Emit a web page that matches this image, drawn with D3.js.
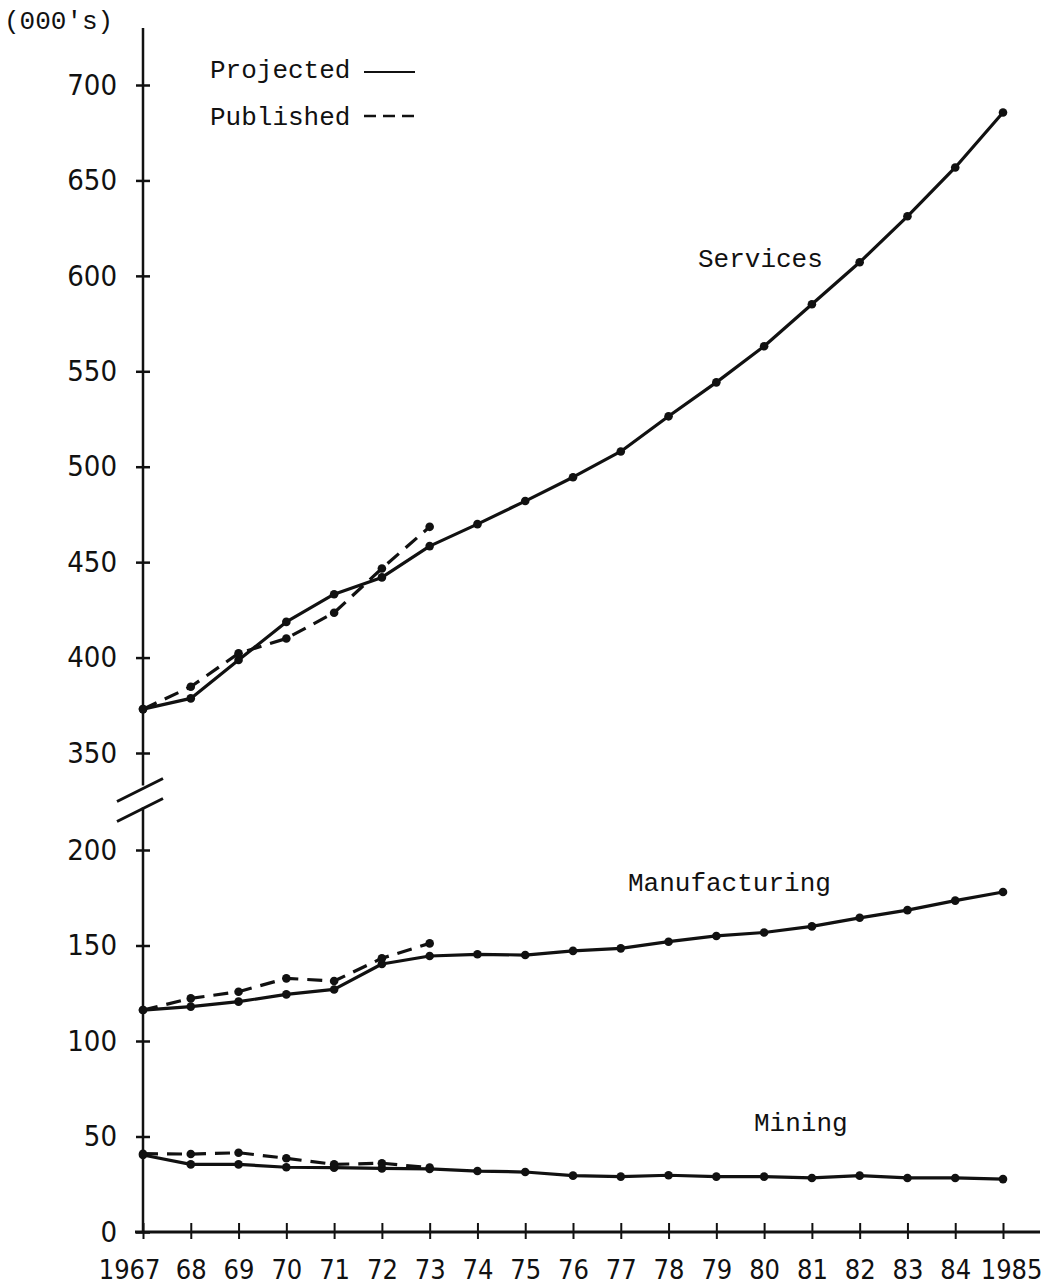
<!DOCTYPE html>
<html>
<head>
<meta charset="utf-8">
<script src="https://cdn.jsdelivr.net/npm/d3@7"></script>
<style>
  html, body { margin: 0; padding: 0; background: #fff; }
  svg { display: block; }
</style>
</head>
<body>
<svg id="svg" width="1046" height="1287"></svg>
<script>
const years = [1967, 1968, 1969, 1970, 1971, 1972, 1973, 1974, 1975, 1976,
  1977, 1978, 1979, 1980, 1981, 1982, 1983, 1984, 1985]
const yearLabels = ['1967', '68', '69', '70', '71', '72', '73', '74', '75', '76',
  '77', '78', '79', '80', '81', '82', '83', '84', '1985']
const yTicks = [0, 50, 100, 150, 200, 350, 400, 450, 500, 550, 600, 650, 700]

// projected series run 1967-85, published only 1967-73
const servicesProjected = [373, 378.6, 398.7, 418.7, 433.2, 442, 458.4, 469.9, 482, 494.5,
  508, 526.4, 544.2, 563.1, 585.1, 607.1, 631.2, 656.8, 685.6]
const servicesPublished = [373, 384.7, 402.2, 410, 423.5, 446.7, 468.5]
const manufacturingProjected = [116.2, 118, 120.6, 124.4, 127, 140.3, 144.5, 145.4, 145, 147.2,
  148.5, 152, 155, 156.8, 160, 164.5, 168.5, 173.5, 178]
const manufacturingPublished = [116.2, 122.3, 125.8, 132.8, 131.4, 143.3, 151.1]
const miningProjected = [40.3, 35.4, 35.4, 33.9, 33.7, 33.3, 33, 31.9, 31.4, 29.5,
  29, 29.7, 29, 29, 28.3, 29.5, 28.3, 28.3, 27.7]
const miningPublished = [41, 40.8, 41.5, 38.6, 35.4, 36, 33.7]

const series = [
  { values: servicesProjected, dashed: false },
  { values: servicesPublished, dashed: true },
  { values: manufacturingProjected, dashed: false },
  { values: manufacturingPublished, dashed: true },
  { values: miningProjected, dashed: false },
  { values: miningPublished, dashed: true }
]

const ink = '#111'
const monoFont = "'Liberation Mono', 'DejaVu Sans Mono', monospace"
const numFont = "'DejaVu Sans Condensed', 'Liberation Sans Narrow', 'DejaVu Sans', sans-serif"

const svg = d3.select('#svg')

const xScale = d3.scaleLinear()
  .domain([1967, 1985])
  .range([143, 1003])

// broken axis: 200 and 350 sit one tick apart
const yScale = d3.scaleLinear()
  .domain([0, 200, 350, 700])
  .range([1232, 850, 753, 85])

const x0 = xScale(1967)
const breakY = (yScale(200) + yScale(350)) / 2

// y axis, drawn in two pieces around the break
const yAxis = d3.axisLeft(yScale)
  .tickValues(yTicks)
  .tickFormat(d3.format('d'))
  .tickSize(7)

const yG = svg.append('g')
  .attr('transform', `translate(${x0}, 0)`)
  .call(yAxis)
yG.select('.domain').remove()
yG.selectAll('.tick line')
  .attr('x1', -7).attr('x2', 7)
  .attr('stroke', ink).attr('stroke-width', 2.5)
yG.selectAll('.tick text')
  .attr('x', -26)
  .attr('fill', ink)
  .attr('font-family', numFont)
  .attr('font-stretch', 'condensed')
  .attr('font-size', 29)

svg.append('line')
  .attr('x1', x0).attr('x2', x0)
  .attr('y1', 28).attr('y2', breakY - 16)
  .attr('stroke', ink).attr('stroke-width', 2.5)
svg.append('line')
  .attr('x1', x0).attr('x2', x0)
  .attr('y1', breakY + 6).attr('y2', yScale(0))
  .attr('stroke', ink).attr('stroke-width', 2.5)

// break slashes
;[-10, 10].forEach(off => {
  svg.append('line')
    .attr('x1', x0 - 26).attr('y1', breakY + off + 10)
    .attr('x2', x0 + 20).attr('y2', breakY + off - 13)
    .attr('stroke', ink).attr('stroke-width', 3)
})

// x axis
const xAxis = d3.axisBottom(xScale)
  .tickValues(years)
  .tickFormat((d, i) => yearLabels[i])
  .tickSize(8)

const xG = svg.append('g')
  .attr('transform', `translate(0, ${yScale(0)})`)
  .call(xAxis)
xG.select('.domain').remove()
xG.selectAll('.tick line')
  .attr('y1', -9).attr('y2', 7)
  .attr('stroke', ink).attr('stroke-width', 2)
xG.selectAll('.tick text')
  .attr('y', 28)
  .attr('fill', ink)
  .attr('font-family', numFont)
  .attr('font-stretch', 'condensed')
  .attr('font-size', 27)
// first and last year labels sit off-centre, as on the typed original
xG.selectAll('.tick text')
  .filter((d, i) => i === 0)
  .attr('text-anchor', 'end')
  .attr('x', 17)
xG.selectAll('.tick text')
  .filter((d, i) => i === years.length - 1)
  .attr('text-anchor', 'end')
  .attr('x', 39)

svg.append('line')
  .attr('x1', x0 - 8).attr('x2', 1040)
  .attr('y1', yScale(0)).attr('y2', yScale(0))
  .attr('stroke', ink).attr('stroke-width', 3)

// data lines and points
const lineGen = d3.line()
  .x((d, i) => xScale(years[i]))
  .y(d => yScale(d))

const graph = svg.append('g')

series.forEach(s => {
  graph.append('path')
    .attr('d', lineGen(s.values))
    .attr('fill', 'none')
    .attr('stroke', ink)
    .attr('stroke-width', 3.2)
    .attr('stroke-linejoin', 'round')
    .attr('stroke-dasharray', s.dashed ? '15 9' : null)

  graph.selectAll(null)
    .data(s.values)
    .join('circle')
    .attr('cx', (d, i) => xScale(years[i]))
    .attr('cy', d => yScale(d))
    .attr('r', 4.3)
    .attr('fill', ink)
})

// text
const label = (txt, x, y) => svg.append('text')
  .attr('x', x).attr('y', y)
  .attr('font-family', monoFont)
  .attr('font-size', 26)
  .attr('fill', ink)
  .text(txt)

label("(000's)", 4, 29)
label('Projected', 210, 78)
label('Published', 210, 125)
label('Services', 698, 267)
label('Manufacturing', 628, 891)
label('Mining', 754, 1131)

// legend samples
svg.append('line')
  .attr('x1', 364).attr('x2', 415)
  .attr('y1', 72).attr('y2', 72)
  .attr('stroke', ink).attr('stroke-width', 2)
svg.append('line')
  .attr('x1', 364).attr('x2', 414)
  .attr('y1', 116).attr('y2', 116)
  .attr('stroke', ink).attr('stroke-width', 2.5)
  .attr('stroke-dasharray', '12 7')
</script>
</body>
</html>
